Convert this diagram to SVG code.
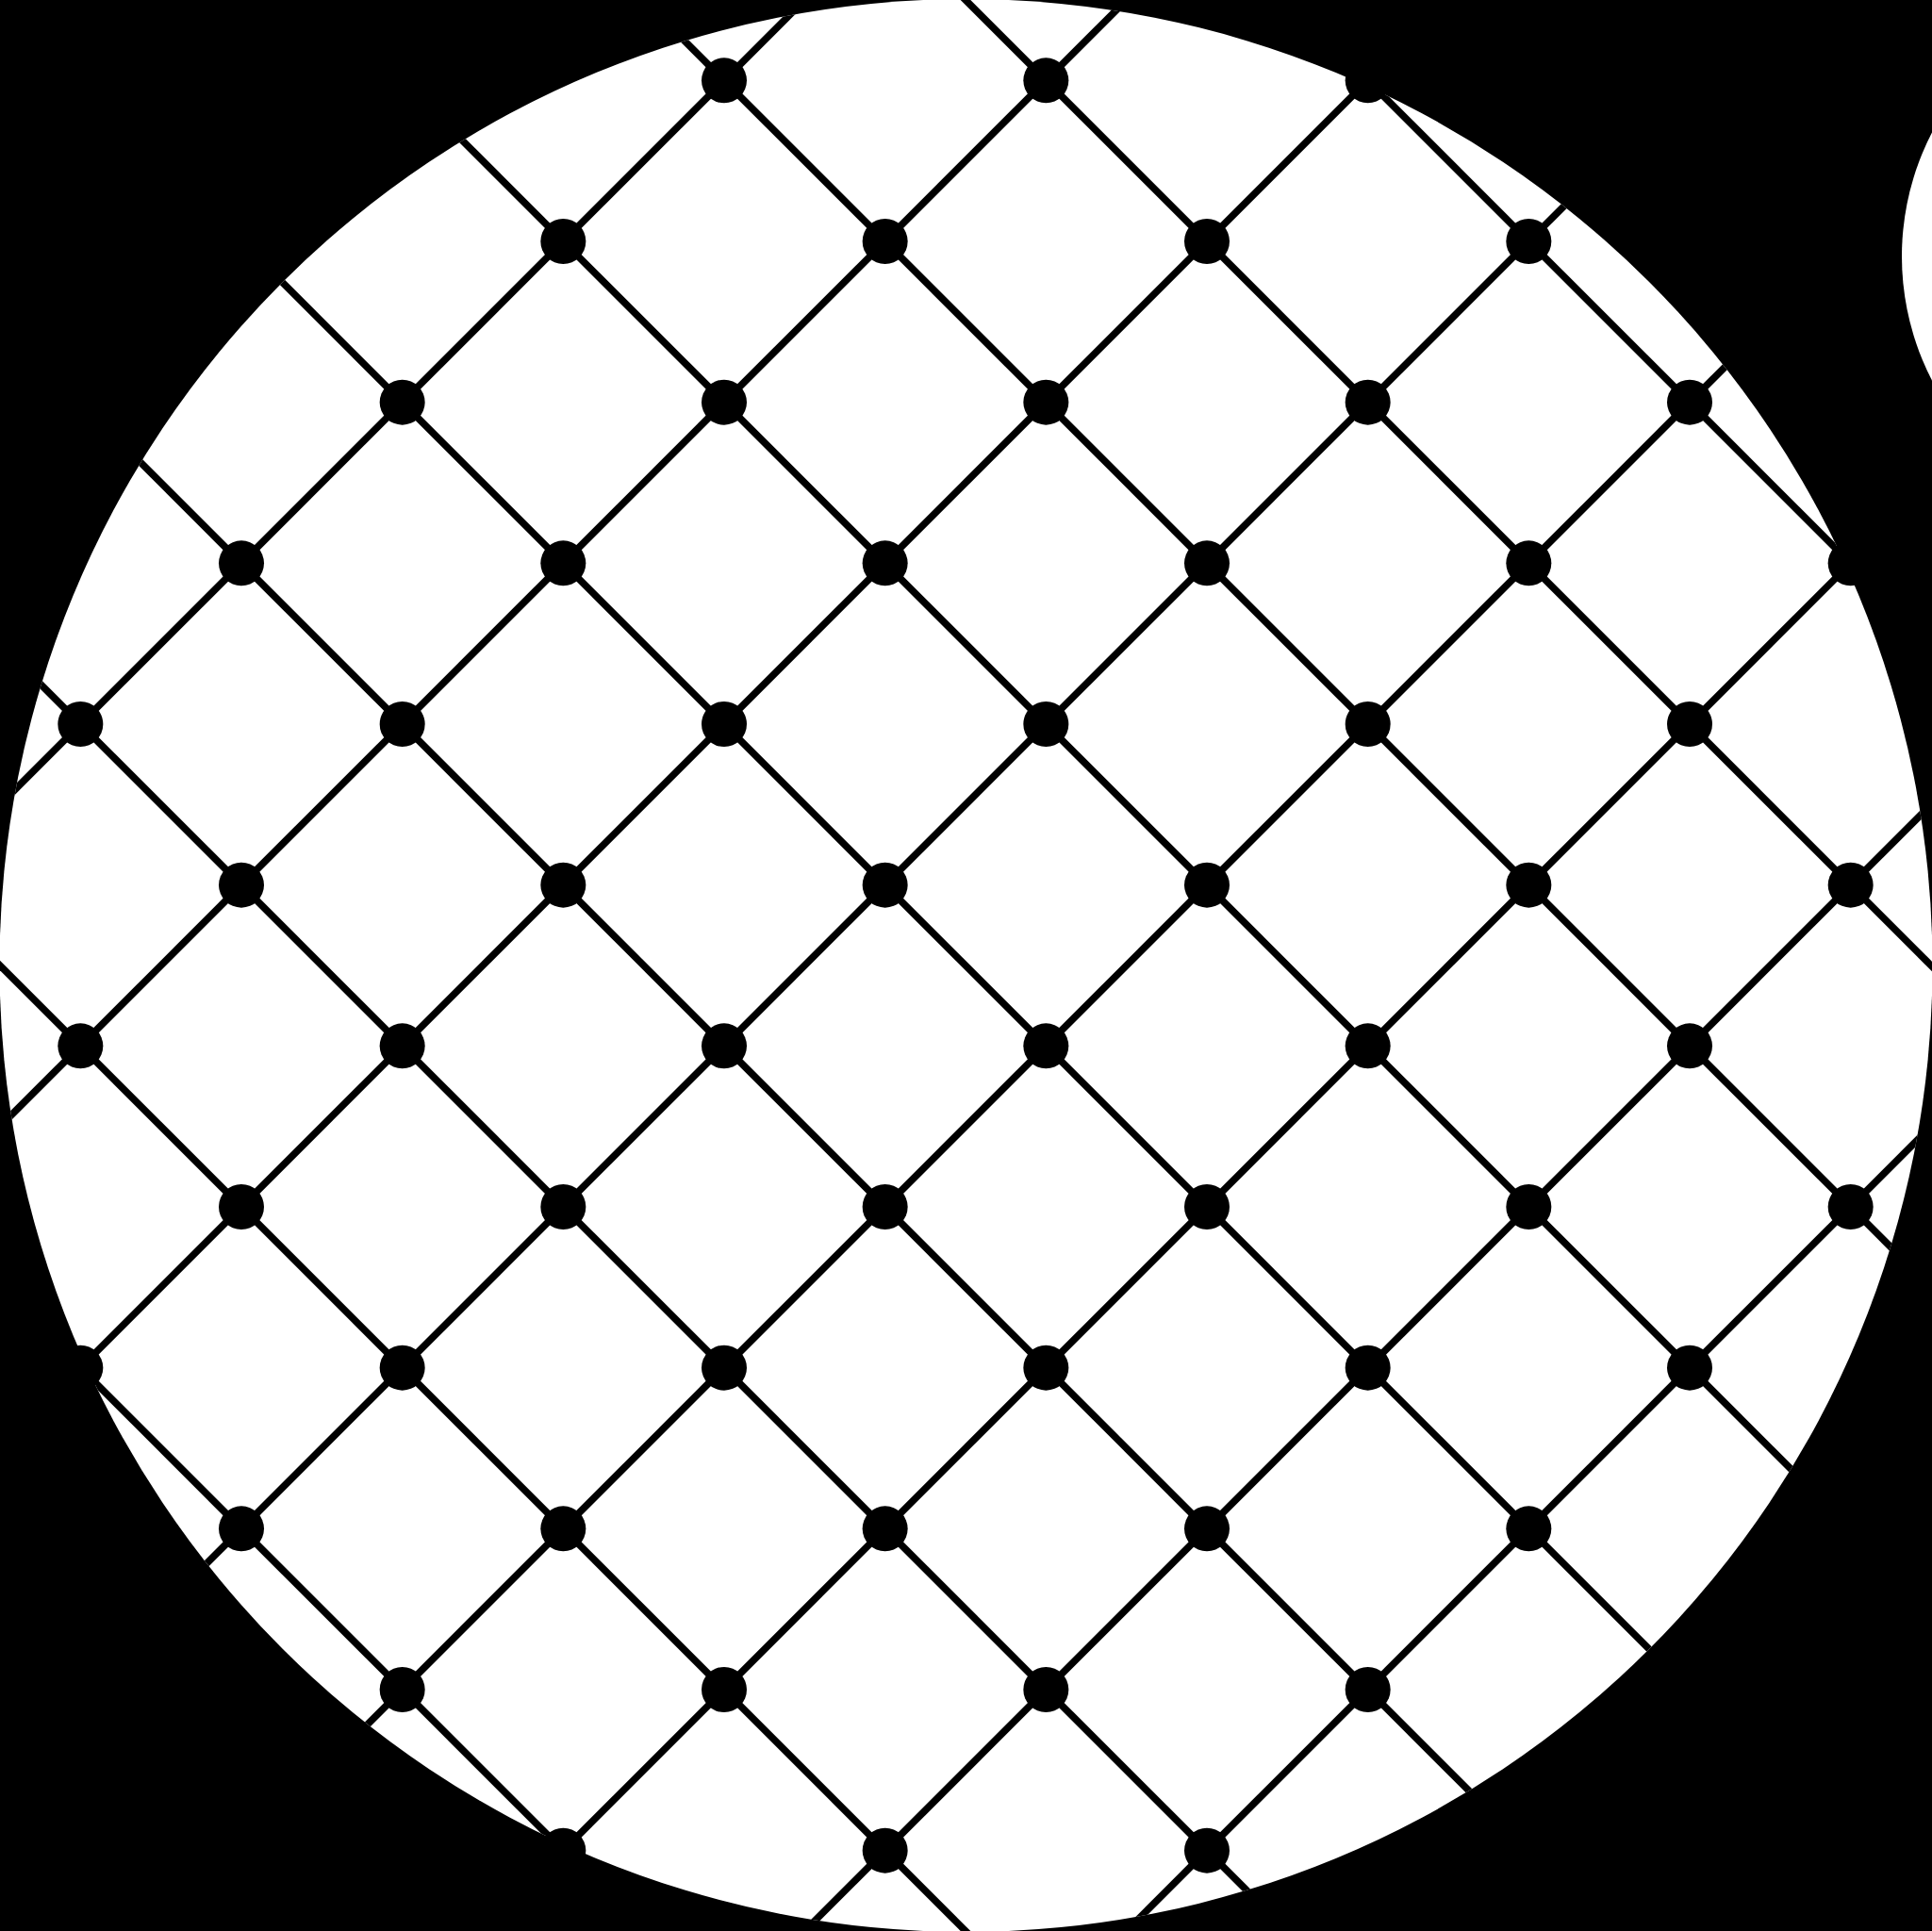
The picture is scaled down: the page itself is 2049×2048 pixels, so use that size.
<svg xmlns="http://www.w3.org/2000/svg" width="2049" height="2048" viewBox="0 0 2049 2048">
<defs>
<style>
.bg{fill:#000}
.disc{fill:#fff}
.edge{stroke:#000;stroke-width:7.5;fill:none}
.node{fill:#000}
</style>
<clipPath id="clipDisc"><circle cx="1024.5" cy="1024" r="1025"/></clipPath>
</defs>
<rect class="bg" x="0" y="0" width="2049" height="2048"/>
<circle class="disc" cx="1024.5" cy="1024" r="1025"/>
<circle class="disc" cx="2303" cy="272" r="286"/>
<g id="connectors" clip-path="url(#clipDisc)">
<line class="edge" x1="-1465.33" y1="-100" x2="834.67" y2="2200"/>
<line class="edge" x1="-1124" y1="-100" x2="1176" y2="2200"/>
<line class="edge" x1="-782.67" y1="-100" x2="1517.33" y2="2200"/>
<line class="edge" x1="-441.33" y1="-100" x2="1858.67" y2="2200"/>
<line class="edge" x1="-100" y1="-100" x2="2200" y2="2200"/>
<line class="edge" x1="241.33" y1="-100" x2="2541.33" y2="2200"/>
<line class="edge" x1="582.67" y1="-100" x2="2882.67" y2="2200"/>
<line class="edge" x1="924" y1="-100" x2="3224" y2="2200"/>
<line class="edge" x1="1265.33" y1="-100" x2="3565.33" y2="2200"/>
<line class="edge" x1="953.33" y1="-100" x2="-1346.67" y2="2200"/>
<line class="edge" x1="1294.67" y1="-100" x2="-1005.33" y2="2200"/>
<line class="edge" x1="1636" y1="-100" x2="-664" y2="2200"/>
<line class="edge" x1="1977.33" y1="-100" x2="-322.67" y2="2200"/>
<line class="edge" x1="2318.67" y1="-100" x2="18.67" y2="2200"/>
<line class="edge" x1="2660" y1="-100" x2="360" y2="2200"/>
<line class="edge" x1="3001.33" y1="-100" x2="701.33" y2="2200"/>
<line class="edge" x1="3342.67" y1="-100" x2="1042.67" y2="2200"/>
</g>
<g id="nodes">
<g id="n-4-0"><circle class="node" cx="768" cy="85.33" r="24"/></g>
<g id="n-6-0"><circle class="node" cx="1109.33" cy="85.33" r="24"/></g>
<g id="n-8-0"><circle class="node" cx="1450.67" cy="85.33" r="24"/></g>
<g id="n-3-1"><circle class="node" cx="597.33" cy="256" r="24"/></g>
<g id="n-5-1"><circle class="node" cx="938.67" cy="256" r="24"/></g>
<g id="n-7-1"><circle class="node" cx="1280" cy="256" r="24"/></g>
<g id="n-9-1"><circle class="node" cx="1621.33" cy="256" r="24"/></g>
<g id="n-2-2"><circle class="node" cx="426.67" cy="426.67" r="24"/></g>
<g id="n-4-2"><circle class="node" cx="768" cy="426.67" r="24"/></g>
<g id="n-6-2"><circle class="node" cx="1109.33" cy="426.67" r="24"/></g>
<g id="n-8-2"><circle class="node" cx="1450.67" cy="426.67" r="24"/></g>
<g id="n-10-2"><circle class="node" cx="1792" cy="426.67" r="24"/></g>
<g id="n-1-3"><circle class="node" cx="256" cy="597.33" r="24"/></g>
<g id="n-3-3"><circle class="node" cx="597.33" cy="597.33" r="24"/></g>
<g id="n-5-3"><circle class="node" cx="938.67" cy="597.33" r="24"/></g>
<g id="n-7-3"><circle class="node" cx="1280" cy="597.33" r="24"/></g>
<g id="n-9-3"><circle class="node" cx="1621.33" cy="597.33" r="24"/></g>
<g id="n-11-3"><circle class="node" cx="1962.67" cy="597.33" r="24"/></g>
<g id="n-0-4"><circle class="node" cx="85.33" cy="768" r="24"/></g>
<g id="n-2-4"><circle class="node" cx="426.67" cy="768" r="24"/></g>
<g id="n-4-4"><circle class="node" cx="768" cy="768" r="24"/></g>
<g id="n-6-4"><circle class="node" cx="1109.33" cy="768" r="24"/></g>
<g id="n-8-4"><circle class="node" cx="1450.67" cy="768" r="24"/></g>
<g id="n-10-4"><circle class="node" cx="1792" cy="768" r="24"/></g>
<g id="n-1-5"><circle class="node" cx="256" cy="938.67" r="24"/></g>
<g id="n-3-5"><circle class="node" cx="597.33" cy="938.67" r="24"/></g>
<g id="n-5-5"><circle class="node" cx="938.67" cy="938.67" r="24"/></g>
<g id="n-7-5"><circle class="node" cx="1280" cy="938.67" r="24"/></g>
<g id="n-9-5"><circle class="node" cx="1621.33" cy="938.67" r="24"/></g>
<g id="n-11-5"><circle class="node" cx="1962.67" cy="938.67" r="24"/></g>
<g id="n-0-6"><circle class="node" cx="85.33" cy="1109.33" r="24"/></g>
<g id="n-2-6"><circle class="node" cx="426.67" cy="1109.33" r="24"/></g>
<g id="n-4-6"><circle class="node" cx="768" cy="1109.33" r="24"/></g>
<g id="n-6-6"><circle class="node" cx="1109.33" cy="1109.33" r="24"/></g>
<g id="n-8-6"><circle class="node" cx="1450.67" cy="1109.33" r="24"/></g>
<g id="n-10-6"><circle class="node" cx="1792" cy="1109.33" r="24"/></g>
<g id="n-1-7"><circle class="node" cx="256" cy="1280" r="24"/></g>
<g id="n-3-7"><circle class="node" cx="597.33" cy="1280" r="24"/></g>
<g id="n-5-7"><circle class="node" cx="938.67" cy="1280" r="24"/></g>
<g id="n-7-7"><circle class="node" cx="1280" cy="1280" r="24"/></g>
<g id="n-9-7"><circle class="node" cx="1621.33" cy="1280" r="24"/></g>
<g id="n-11-7"><circle class="node" cx="1962.67" cy="1280" r="24"/></g>
<g id="n-0-8"><circle class="node" cx="85.33" cy="1450.67" r="24"/></g>
<g id="n-2-8"><circle class="node" cx="426.67" cy="1450.67" r="24"/></g>
<g id="n-4-8"><circle class="node" cx="768" cy="1450.67" r="24"/></g>
<g id="n-6-8"><circle class="node" cx="1109.33" cy="1450.67" r="24"/></g>
<g id="n-8-8"><circle class="node" cx="1450.67" cy="1450.67" r="24"/></g>
<g id="n-10-8"><circle class="node" cx="1792" cy="1450.67" r="24"/></g>
<g id="n-1-9"><circle class="node" cx="256" cy="1621.33" r="24"/></g>
<g id="n-3-9"><circle class="node" cx="597.33" cy="1621.33" r="24"/></g>
<g id="n-5-9"><circle class="node" cx="938.67" cy="1621.33" r="24"/></g>
<g id="n-7-9"><circle class="node" cx="1280" cy="1621.33" r="24"/></g>
<g id="n-9-9"><circle class="node" cx="1621.33" cy="1621.33" r="24"/></g>
<g id="n-2-10"><circle class="node" cx="426.67" cy="1792" r="24"/></g>
<g id="n-4-10"><circle class="node" cx="768" cy="1792" r="24"/></g>
<g id="n-6-10"><circle class="node" cx="1109.33" cy="1792" r="24"/></g>
<g id="n-8-10"><circle class="node" cx="1450.67" cy="1792" r="24"/></g>
<g id="n-3-11"><circle class="node" cx="597.33" cy="1962.67" r="24"/></g>
<g id="n-5-11"><circle class="node" cx="938.67" cy="1962.67" r="24"/></g>
<g id="n-7-11"><circle class="node" cx="1280" cy="1962.67" r="24"/></g>
</g>
</svg>
